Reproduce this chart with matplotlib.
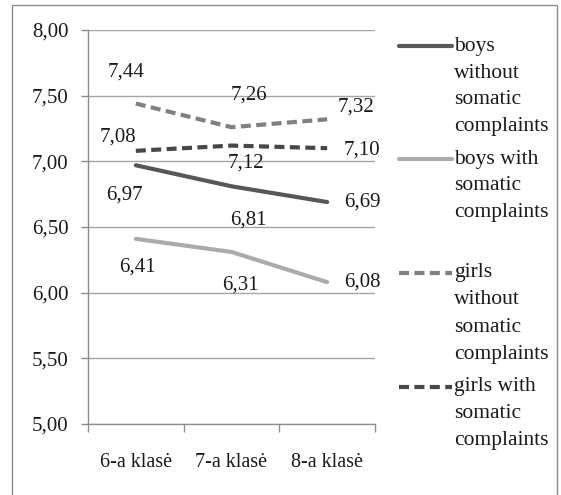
import matplotlib

matplotlib.use("Agg")
import matplotlib.pyplot as plt
from matplotlib.lines import Line2D
from matplotlib.patches import Rectangle
from matplotlib.ticker import FuncFormatter, FixedLocator

plt.rcParams["font.family"] = ["Liberation Serif", "DejaVu Serif"]

grades = ["6-a klasė", "7-a klasė", "8-a klasė"]
boys_without = [6.97, 6.81, 6.69]
boys_with = [6.41, 6.31, 6.08]
girls_without = [7.44, 7.26, 7.32]
girls_with = [7.08, 7.12, 7.10]

series_names = [
    ["boys", "without", "somatic", "complaints"],
    ["boys with", "somatic", "complaints"],
    ["girls", "without", "somatic", "complaints"],
    ["girls with", "somatic", "complaints"],
]

# (color, dashed) per series
styles = [
    ("#575757", False),
    ("#ababab", False),
    ("#808080", True),
    ("#474747", True),
]

# label offsets in pixels from each point (dx, dy up)
label_offsets = [
    [(-11, -30), (17, -34), (35, 0)],
    [(2, -28), (9, -33), (35, 0)],
    [(-10, 31), (17, 32), (29, 12)],
    [(-18, 14), (14, -17), (35, -2)],
]

W, H = 561, 495
fig = plt.figure(figsize=(W / 100, H / 100), dpi=100)
ax = fig.add_axes([88 / W, 1 - 424 / H, (375 - 88) / W, (424 - 30) / H])

xs = list(range(len(grades)))
all_series = [boys_without, boys_with, girls_without, girls_with]
FS = 15
TXT = "#1a1a1a"

for vals, (color, dashed), offs in zip(all_series, styles, label_offsets):
    ls = (0, (2.4, 1.3)) if dashed else "-"
    ax.plot(xs, vals, color=color, lw=3, ls=ls, solid_capstyle="round",
            dash_capstyle="butt", zorder=3)
    for x, v, (dx, dy) in zip(xs, vals, offs):
        ax.annotate(f"{v:.2f}".replace(".", ","), (x, v), xytext=(dx, dy),
                    textcoords="offset pixels", ha="center", va="center",
                    fontsize=FS, color=TXT)

ax.set_xlim(-0.5, len(grades) - 0.5)
ax.set_ylim(5, 8)
ax.set_yticks([5.0, 5.5, 6.0, 6.5, 7.0, 7.5, 8.0])
ax.yaxis.set_major_formatter(FuncFormatter(lambda v, p: f"{v:.2f}".replace(".", ",")))
ax.set_xticks(xs)
ax.set_xticklabels(grades)
ax.xaxis.set_minor_locator(FixedLocator([i - 0.5 for i in range(len(grades) + 1)]))

ax.grid(axis="y", color="#a6a6a6", lw=1)
ax.set_axisbelow(True)
for side in ("top", "right"):
    ax.spines[side].set_visible(False)
for side in ("left", "bottom"):
    ax.spines[side].set_color("#8c8c8c")
    ax.spines[side].set_linewidth(1)

ax.tick_params(axis="y", length=5, width=1, color="#8c8c8c", pad=9,
               labelsize=FS, labelcolor=TXT)
ax.tick_params(axis="x", which="major", length=0, pad=21,
               labelsize=14.5, labelcolor=TXT)
ax.tick_params(axis="x", which="minor", length=6, width=1, color="#8c8c8c")

# legend on the right, one block per series
line_px = 27
first_rows = [46, 159, 273, 387]
for names, (color, dashed), y0 in zip(series_names, styles, first_rows):
    ls = (0, (2.4, 1.3)) if dashed else "-"
    fig.add_artist(Line2D([399 / W, 452 / W], [1 - y0 / H] * 2, color=color,
                          lw=3, ls=ls, solid_capstyle="round",
                          dash_capstyle="butt"))
    for i, name in enumerate(names):
        fig.text(454 / W, 1 - (y0 + i * line_px) / H, name, ha="left",
                 va="center", fontsize=15.5, color=TXT)

fig.add_artist(Rectangle((12 / W, -0.01), (557 - 12) / W, 1.01 - 5 / H,
                         transform=fig.transFigure, fill=False,
                         edgecolor="#8c8c8c", lw=1))

fig.savefig("out.png", dpi=100)
